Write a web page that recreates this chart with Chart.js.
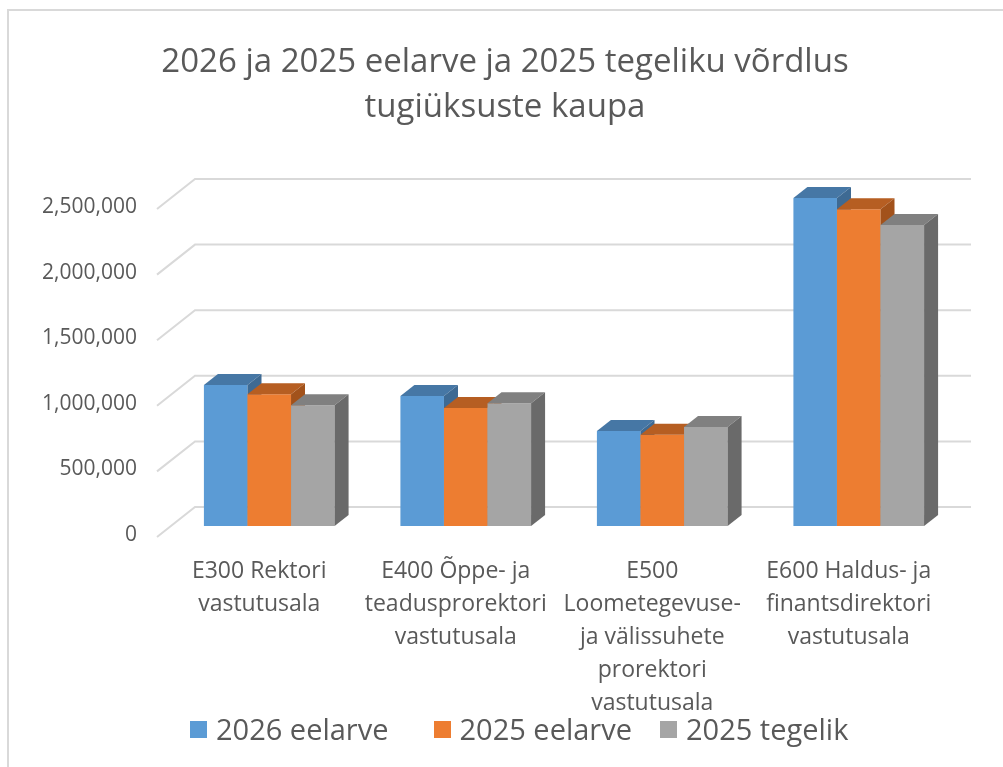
<!DOCTYPE html>
<html>
<head>
<meta charset="utf-8">
<script src="https://cdn.jsdelivr.net/npm/chart.js@4.4.0/dist/chart.umd.min.js"></script>
<style>
  html, body { margin: 0; padding: 0; background: #fff; }
  #wrap { position: relative; width: 1003px; height: 767px; overflow: hidden; font-family: 'Open Sans', sans-serif; }
  #frame { position: absolute; left: 7px; top: 9px; width: 1100px; height: 900px; border-top: 2px solid #d9d9d9; border-left: 2px solid #d9d9d9; }
  canvas { position: absolute; left: 0; top: 0; }
  #legend { position: absolute; top: 709px; left: 190px; display: flex; align-items: center; color: #595959; font-size: 29px; line-height: 40px; }
  .item { display: flex; align-items: center; margin-right: 45px; }
  .item:nth-child(2) { margin-right: 28px; }
  .box { width: 17px; height: 17px; margin-right: 9px; }
</style>
</head>
<body>
<div id="wrap">
  <div id="frame"></div>
  <canvas id="budgetChart" width="1003" height="767"></canvas>
  <div id="legend"></div>
</div>
<script>
// Data
const categories = [
  ["E300 Rektori", "vastutusala"],
  ["E400 Õppe- ja", "teadusprorektori", "vastutusala"],
  ["E500", "Loometegevuse-", "ja välissuhete", "prorektori", "vastutusala"],
  ["E600 Haldus- ja", "finantsdirektori", "vastutusala"]
];
const seriesNames = ["2026 eelarve", "2025 eelarve", "2025 tegelik"];
const budget2026 = [1075000, 990000, 725000, 2500000];
const budget2025 = [1005000, 900000, 695000, 2415000];
const actual2025 = [920000, 935000, 755000, 2295000];
const yTicks = [0, 500000, 1000000, 1500000, 2000000, 2500000];

// face colours: front, top, side
const frontColors = ["#5b9bd5", "#ed7d31", "#a5a5a5"];
const topColors = ["#4677a5", "#b65e22", "#808080"];
const sideColors = ["#3e6a93", "#a2521b", "#6a6a6a"];

const textColor = "#595959";
Chart.defaults.font.family = "'Open Sans', sans-serif";
Chart.defaults.color = textColor;

function fillPoly(ctx, color, pts) {
  ctx.fillStyle = color;
  ctx.beginPath();
  ctx.moveTo(pts[0][0], pts[0][1]);
  for (let k = 1; k < pts.length; k++) ctx.lineTo(pts[k][0], pts[k][1]);
  ctx.closePath();
  ctx.fill();
}

// fake 3D: back wall grid, then every bar (front, top, side) left to right
const depth = { x: 14, y: 11 };
const wall3d = {
  id: "wall3d",
  beforeDatasetsDraw(chart) {
    const { ctx, chartArea, scales } = chart;
    const y = scales.y;
    ctx.save();
    ctx.strokeStyle = "#d9d9d9";
    ctx.lineWidth = 2;
    y.ticks.forEach((t) => {
      const py = y.getPixelForValue(t.value);
      ctx.beginPath();
      ctx.moveTo(chartArea.left - 14, py + 11);
      ctx.lineTo(chartArea.left + 24, py - 19);
      ctx.lineTo(chartArea.right + 14, py - 19);
      ctx.stroke();
    });
    ctx.restore();
  },
  afterDatasetsDraw(chart) {
    const ctx = chart.ctx;
    ctx.save();
    chart.data.datasets.forEach((ds, i) => {
      chart.getDatasetMeta(i).data.forEach((bar) => {
        const p = bar.getProps(["x", "y", "base", "width"], true);
        const l = p.x - p.width / 2;
        const r = p.x + p.width / 2;
        fillPoly(ctx, frontColors[i], [[l, p.y], [r, p.y], [r, p.base], [l, p.base]]);
        fillPoly(ctx, topColors[i], [[l, p.y], [l + depth.x, p.y - depth.y], [r + depth.x, p.y - depth.y], [r, p.y]]);
        fillPoly(ctx, sideColors[i], [[r, p.y], [r + depth.x, p.y - depth.y], [r + depth.x, p.base - depth.y], [r, p.base]]);
      });
    });
    ctx.restore();
  }
};

const values = [budget2026, budget2025, actual2025];
const datasets = seriesNames.map((name, i) => ({
  label: name,
  data: values[i],
  backgroundColor: "rgba(0,0,0,0)",
  borderWidth: 0,
  barPercentage: 1,
  categoryPercentage: 0.665,
  clip: false
}));

new Chart(document.getElementById("budgetChart"), {
  type: "bar",
  data: { labels: categories, datasets: datasets },
  options: {
    responsive: false,
    animation: false,
    layout: { padding: { left: 7, right: 0, top: 0, bottom: 0 } },
    plugins: {
      legend: { display: false },
      tooltip: { enabled: false },
      title: {
        display: true,
        text: ["2026 ja 2025 eelarve ja 2025 tegeliku võrdlus", "tugiüksuste kaupa"],
        color: textColor,
        font: { size: 33, weight: "normal", lineHeight: 1.364 },
        padding: { top: 40, bottom: 68 }
      }
    },
    scales: {
      x: {
        grid: { display: false, drawTicks: false },
        border: { display: false },
        ticks: {
          color: textColor,
          font: { size: 23, lineHeight: 1.435 },
          padding: 29,
          labelOffset: -10,
          maxRotation: 0,
          minRotation: 0,
          autoSkip: false
        },
        afterFit(s) { s.height = 241; }
      },
      y: {
        min: 0,
        max: 2500000,
        grid: { display: false, drawTicks: false },
        border: { display: false },
        afterBuildTicks(s) { s.ticks = yTicks.map((v) => ({ value: v })); },
        ticks: {
          color: textColor,
          font: { size: 21 },
          padding: 34,
          labelOffset: 9,
          callback: (v) => v.toLocaleString("en-US")
        },
        afterFit(s) { s.width = 164; }
      },
      spacer: {
        position: "right",
        grid: { display: false, drawTicks: false },
        border: { display: false },
        ticks: { display: false },
        afterFit(s) { s.width = 46; }
      }
    }
  },
  plugins: [wall3d]
});

// legend
const legend = document.getElementById("legend");
seriesNames.forEach((name, i) => {
  const item = document.createElement("div");
  item.className = "item";
  item.innerHTML = '<span class="box" style="background:' + frontColors[i] + '"></span><span>' + name + "</span>";
  legend.appendChild(item);
});
</script>
</body>
</html>
